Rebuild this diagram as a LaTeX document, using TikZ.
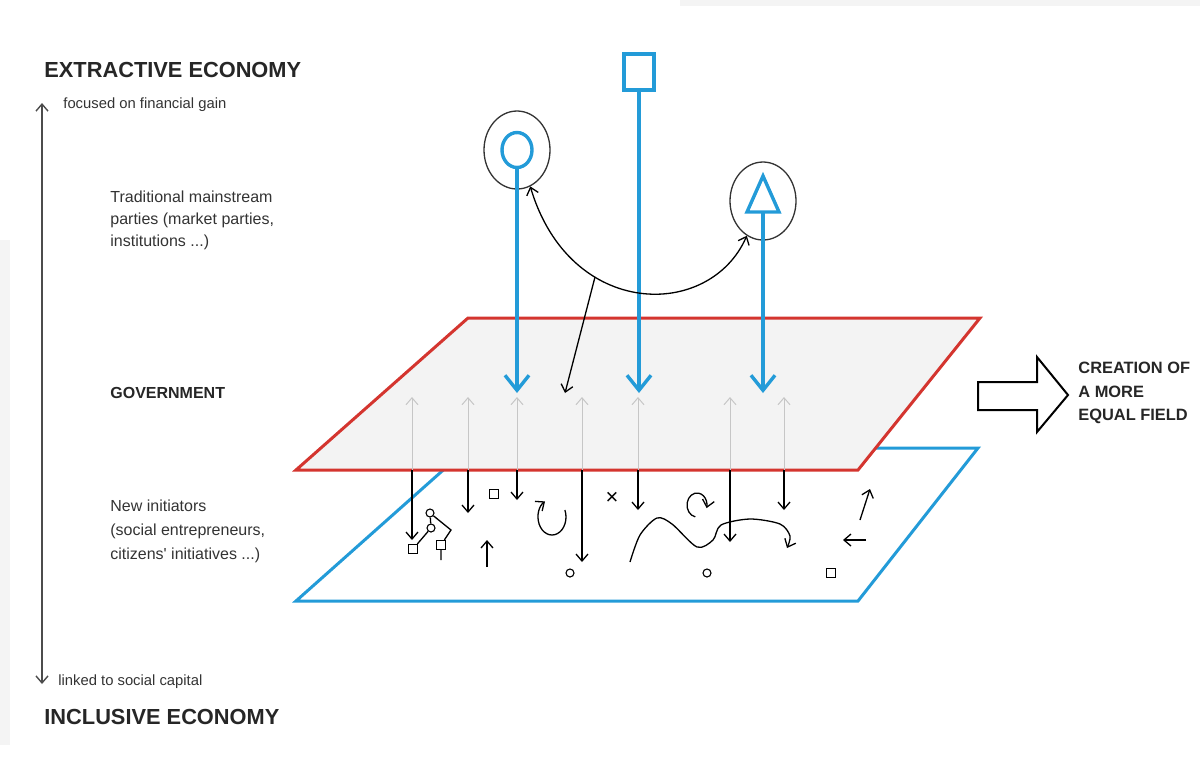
\documentclass[tikz,border=0pt]{standalone}
\usepackage{fontspec}
\setmainfont{Liberation Sans}
\usetikzlibrary{arrows.meta,positioning,shapes.geometric}
\definecolor{planeRed}{HTML}{D4352F}
\definecolor{planeBlue}{HTML}{239BD8}
\definecolor{planeGray}{HTML}{F3F3F3}
\definecolor{inkGray}{HTML}{333333}

\begin{document}
\begin{tikzpicture}[x=0.5pt,y=-0.5pt,
  lbl/.style={anchor=west,inner sep=0pt,align=left,text=inkGray,font=\fontsize{8}{11}\selectfont},
  head/.style={lbl,text=black!85,font=\bfseries\fontsize{10.9}{13}\selectfont},
  ring/.style={draw=black!80,ellipse,line width=0.65pt,minimum width=33pt,minimum height=39pt,inner sep=0pt},
  pin/.style={draw=planeBlue,line width=1.7pt},
  drop/.style={pin,-{Straight Barb[length=7.5pt,width=12pt]}},
  thin/.style={line width=0.65pt,-{Straight Barb[length=3.5pt,width=6pt]}},
  ghost/.style={gray!45,line width=0.5pt,-{Straight Barb[length=3.5pt,width=6pt]}},
  dot/.style={draw,circle,line width=0.55pt,minimum size=4pt,inner sep=0pt},
  sq/.style={draw,rectangle,line width=0.55pt,minimum size=4.5pt,inner sep=0pt},
  smudge/.style={fill=gray!9,draw=none}]
\useasboundingbox (0,0) rectangle (1200,757);
\fill[smudge] (0,240) rectangle (10,745);
\fill[smudge] (680,0) rectangle (1200,6);
% the two fields
\draw[planeBlue,line width=1.5pt,fill=white] (468,448) -- (978,448) -- (858,601) -- (296,601) -- cycle;
\draw[planeRed,line width=1.5pt,fill=planeGray] (468,318) -- (980,318) -- (858,470) -- (296,470) -- cycle;
\foreach \x/\tip in {412/540,468/513,517/500,582/562,638/510,730/542,784/510}{
  \draw[ghost] (\x,470) -- (\x,397);
  \draw[thin] (\x,470) -- (\x,\tip);
}
% mainstream parties
\node[ring] (c1) at (517,150) {};
\node[ellipse,pin,minimum width=15pt,minimum height=17.5pt,inner sep=0pt] (ci) at (517,150) {};
\node[pin,minimum width=15pt,minimum height=18pt,inner sep=0pt] (sqr) at (639,72) {};
\node[ring] (c3) at (763,201) {};
\draw[pin] (763,176) -- (779,212) -- (747,212) -- cycle;
\coordinate (trib) at (763,212);
\coordinate (g0) at (565,393); \coordinate (g1) at (517,393);
\coordinate (g2) at (639,393); \coordinate (g3) at (763,393);
\draw[drop] (ci.south) -- (g1); \draw[drop] (sqr.south) -- (g2); \draw[drop] (trib) -- (g3);
\draw[line width=0.65pt,{Straight Barb[length=3.5pt,width=6pt]}-{Straight Barb[length=3.5pt,width=6pt]}]
  (c1.-70) .. controls (570,320) and (710,320) .. (c3.-115) coordinate[pos=0.33] (fork);
\draw[thin] (fork) -- (g0);
% new initiators
\node[dot] (n1) at (430,513) {}; \node[dot] (n2) at (431,528) {};
\node[sq] (s1) at (413,549) {}; \node[sq] (s2) at (441,545) {};
\coordinate (kink) at (451,530); \coordinate (stem) at (441,560);
\draw[line width=0.65pt] (n1)--(n2) (n2)--(s1) (n1)--(kink)--(s2) (s2)--(stem);
\node[sq] (b1) at (494,494) {};
\node[inner sep=0pt,font=\fontsize{11}{11}\selectfont] (cross) at (612,498) {×};
\node[dot] (o1) at (570,573) {}; \node[dot] (o2) at (707,573) {}; \node[sq] (b2) at (831,573) {};
\draw[thin] ([shift={(-23:14 and 18)}]552,517) arc[start angle=-23,end angle=240,x radius=14,y radius=18];
\draw[thin] ([shift={(100:10 and 12)}]697,505) arc[start angle=100,end angle=375,x radius=10,y radius=12];
\draw[thin] plot[smooth] coordinates {(630,562) (640,535) (657,518) (672,524) (697,547) (713,540) (721,525) (750,519) (780,524) (790,536) (787,548)};
\draw[thin] (487,567) -- (487,540);
\draw[thin] (860,520) -- (870,489);
\draw[thin] (866,540) -- (843,540);
% outcome
\draw[line width=1pt,fill=white] (978,382) -- (1037,382) -- (1037,357) -- (1068,395) -- (1037,432) -- (1037,410) -- (978,410) -- cycle;
\node[lbl,text=black!85,font=\bfseries\fontsize{8.2}{11.7}\selectfont] (eq) at (1078,393) {CREATION OF\\A MORE\\EQUAL FIELD};
% axis and labels
\coordinate (hi) at (42,103); \coordinate (lo) at (42,684);
\draw[black!70,line width=0.7pt,{Straight Barb[length=3.5pt,width=6pt]}-{Straight Barb[length=3.5pt,width=6pt]}] (lo) -- (hi);
\node[head] (ext) at (44,70) {EXTRACTIVE ECONOMY};
\node[lbl,font=\fontsize{7.4}{9}\selectfont] (gain) at (63,105) {focused on financial gain};
\node[lbl] (trad) at (110,220) {Traditional mainstream\\parties (market parties,\\institutions ...)};
\node[lbl,text=black!85,font=\bfseries\fontsize{8}{10}\selectfont] (gov) at (110,393) {GOVERNMENT};
\node[lbl,font=\fontsize{8}{12}\selectfont] (new) at (110,531) {New initiators\\(social entrepreneurs,\\citizens\textquotesingle{} initiatives ...)};
\node[lbl,font=\fontsize{7.4}{9}\selectfont] (soc) at (58,682) {linked to social capital};
\node[head] (inc) at (44,717) {INCLUSIVE ECONOMY};
\end{tikzpicture}
\end{document}
